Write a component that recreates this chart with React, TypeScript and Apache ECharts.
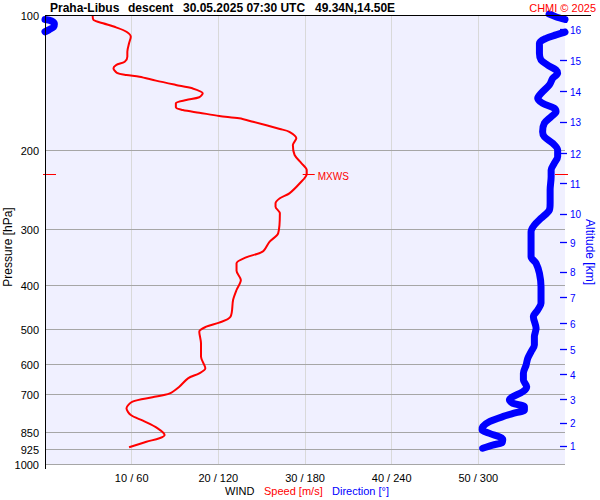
import React, { useEffect, useRef } from "react";
import * as echarts from "echarts";

const FONT = '"Liberation Sans", Arial, sans-serif';

// Pressure levels with grid lines / labels (hPa)
const pressureLevels = [100, 200, 300, 400, 500, 600, 700, 850, 925, 1000];

// Altitude ticks (km) and their pressure (hPa)
const altitudeKm = [1, 2, 3, 4, 5, 6, 7, 8, 9, 10, 11, 12, 13, 14, 15, 16];
const altitudeP = [907, 805, 713, 628, 552, 484, 423, 371, 319, 276, 236, 202, 172, 147, 125.5, 107];

// Wind speed profile
const speedP = [100, 102.1, 103.8, 106.0, 108.4, 111.2, 115.0, 120.1, 123.2, 126.4, 128.6, 130.7, 133.8, 135.3, 136.5, 139.3, 142.4, 144.9, 148.7, 151.7, 153.9, 156.5, 159.7, 162.0, 164.2, 167.0, 169.0, 172.0, 178.5, 181.1, 187.3, 193.8, 204.0, 212.8, 220.3, 224.9, 235.8, 248.3, 254.7, 261.3, 265.9, 275.0, 304.8, 318.3, 334.9, 344.7, 355.5, 369.3, 387.3, 407.6, 429.1, 467.5, 482.0, 492.0, 504.8, 535.8, 573.9, 609.0, 624.9, 641.1, 669.3, 692.4, 706.7, 722.8, 747.7, 773.8, 796.8, 828.6, 857.5, 872.0, 887.4, 913.1];
const speedMs = [5.5, 5.6, 6.7, 8.2, 9.4, 9.9, 9.7, 9.5, 9.5, 9.2, 8.2, 7.9, 8.3, 9.4, 10.9, 12.8, 15.1, 17.0, 18.2, 17.8, 16.3, 15.1, 15.1, 15.9, 17.8, 20.1, 22.4, 24.0, 27.1, 28.2, 29.0, 28.6, 28.8, 29.6, 30.2, 30.2, 29.4, 28.2, 27.1, 26.6, 26.6, 27.1, 26.9, 25.9, 25.1, 23.2, 22.1, 22.1, 22.6, 22.1, 21.7, 21.4, 20.1, 18.6, 17.8, 18.0, 18.0, 18.5, 17.8, 16.5, 15.5, 14.4, 12.4, 10.1, 9.4, 9.9, 11.3, 13.0, 13.8, 13.2, 11.7, 9.7];

// Wind direction profile, split where it wraps around 0/360
const dirTopP = [99, 100.5, 101.8];
const dirTopDeg = [349, 354, 360];
const dirWrapP = [101.8, 102.6, 104.2, 105.8, 107.2, 108.4];
const dirWrapDeg = [0, 4.5, 6.5, 6, 3, 0];
const dirMainP = [108.6, 110.2, 112.1, 115.0, 121.1, 125.3, 128.6, 131.9, 134.2, 137.6, 142.4, 148.7, 152.5, 156.5, 160.5, 163.4, 167.6, 173.4, 181.1, 185.8, 192.1, 198.8, 205.8, 212.8, 220.3, 228.0, 244.1, 261.3, 270.4, 282.2, 292.1, 302.3, 315.5, 343.6, 355.5, 374.2, 400.8, 436.4, 451.7, 467.5, 496.2, 518.0, 540.5, 559.4, 578.7, 598.8, 624.9, 646.8, 669.3, 686.8, 704.6, 716.5, 728.8, 741.6, 754.2, 764.7, 780.5, 801.0, 821.8, 835.7, 850.2, 876.6, 891.9, 902.8, 917.8];
const dirMainDeg = [360, 353.8, 346.9, 342.3, 342.3, 343.4, 348.0, 353.8, 354.9, 351.5, 349.2, 343.4, 341.1, 344.5, 352.6, 353.8, 350.4, 345.7, 344.5, 345.7, 351.5, 354.9, 354.9, 352.6, 350.4, 350.4, 349.7, 349.7, 349.2, 343.4, 338.8, 336.5, 336.5, 336.5, 340.0, 342.3, 343.4, 343.4, 341.1, 338.1, 340.0, 338.8, 338.8, 336.5, 334.2, 333.1, 331.2, 331.2, 333.5, 330.7, 323.8, 321.5, 323.8, 331.9, 331.9, 326.1, 316.9, 307.7, 303.0, 302.6, 307.7, 316.9, 316.4, 309.9, 303.0];

// Maximum wind
const mxwsSpeed = 30.2;
const mxwsP = 225;

const speedTicks = [10, 20, 30, 40, 50];

export default function App() {
  const ref = useRef<HTMLDivElement>(null);

  useEffect(() => {
    if (!ref.current) return;
    const chart = echarts.init(ref.current, undefined, { renderer: "svg" });

    const zip = (a: number[], b: number[]) => a.map((v, i) => [v, b[i]]);
    const blueStyle = { color: "#0000ff", width: 7, cap: "round", join: "round" };

    const option: any = {
      animation: false,
      backgroundColor: "#ffffff",
      textStyle: { fontFamily: FONT },
      grid: {
        left: 45, top: 16, right: 35, bottom: 35,
        show: true, backgroundColor: "#f0f0ff", borderWidth: 0,
      },
      xAxis: [
        {
          type: "value", min: 0, max: 60, interval: 10,
          axisLine: { show: false }, axisTick: { show: false },
          splitLine: { show: true, showMinLine: false, showMaxLine: false, lineStyle: { color: "#d9d9d9", width: 1 } },
          axisLabel: {
            margin: 7, fontSize: 11, color: "#000", fontFamily: FONT,
            formatter: (v: number) => (speedTicks.indexOf(v) >= 0 ? `${v} / ${v * 6}` : ""),
          },
        },
        { type: "value", min: 0, max: 360, show: false },
      ],
      yAxis: {
        type: "log", logBase: 10, min: 100, max: 1000, inverse: true,
        axisLine: { show: false }, axisTick: { show: false },
        axisLabel: { show: false }, splitLine: { show: false },
      },
      series: [
        {
          type: "custom", z: 1, clip: false, silent: true,
          xAxisIndex: 0, yAxisIndex: 0,
          data: pressureLevels.map((p) => [0, p]),
          encode: { x: 0, y: 1 },
          renderItem: (params: any, api: any) => {
            const p = api.value(1);
            const a = api.coord([0, p]);
            const b = api.coord([60, p]);
            const y = Math.round(a[1]) - 0.5;
            return {
              type: "group",
              children: [
                { type: "line", shape: { x1: a[0], y1: y, x2: b[0], y2: y }, style: { stroke: "#a6a6a6", lineWidth: 1 } },
                {
                  type: "text", x: a[0] - 6, y: a[1],
                  style: { text: String(p), align: "right", verticalAlign: "middle", fill: "#000", fontSize: 11, fontFamily: FONT },
                },
              ],
            };
          },
        },
        {
          type: "custom", z: 5, clip: false, silent: true,
          xAxisIndex: 0, yAxisIndex: 0,
          data: altitudeKm.map((k, i) => [60, altitudeP[i], k]),
          encode: { x: 0, y: 1 },
          renderItem: (params: any, api: any) => {
            const c = api.coord([api.value(0), api.value(1)]);
            const y = Math.round(c[1]) + 0.5;
            return {
              type: "group",
              children: [
                { type: "line", shape: { x1: c[0] - 5, y1: y, x2: c[0] + 2, y2: y }, style: { stroke: "#0000ff", lineWidth: 1.3 } },
                {
                  type: "text", x: c[0] + 5, y: c[1] + 1,
                  style: { text: String(api.value(2)), align: "left", verticalAlign: "middle", fill: "#0000ff", fontSize: 10, fontFamily: FONT },
                },
              ],
            };
          },
        },
        {
          type: "custom", z: 6, clip: false, silent: true,
          xAxisIndex: 0, yAxisIndex: 0,
          data: [[mxwsSpeed, mxwsP]],
          encode: { x: 0, y: 1 },
          renderItem: (params: any, api: any) => {
            const c = api.coord([api.value(0), api.value(1)]);
            const l = api.coord([0, api.value(1)]);
            const r = api.coord([60, api.value(1)]);
            const y = Math.round(c[1]) + 0.5;
            return {
              type: "group",
              children: [
                { type: "line", shape: { x1: l[0] - 2, y1: y, x2: l[0] + 11, y2: y }, style: { stroke: "#ff0000", lineWidth: 1 } },
                { type: "line", shape: { x1: r[0] - 10, y1: y, x2: r[0] + 3, y2: y }, style: { stroke: "#ff0000", lineWidth: 1 } },
                { type: "line", shape: { x1: c[0] - 4, y1: y, x2: c[0] + 8, y2: y }, style: { stroke: "#ff0000", lineWidth: 1 } },
                {
                  type: "text", x: c[0] + 11, y: c[1] + 2,
                  style: { text: "MXWS", align: "left", verticalAlign: "middle", fill: "#ff0000", fontSize: 10, fontFamily: FONT },
                },
              ],
            };
          },
        },
        {
          type: "line", name: "Speed", xAxisIndex: 0, yAxisIndex: 0, z: 4,
          data: zip(speedMs, speedP), showSymbol: false, symbol: "none", smooth: 0.3,
          lineStyle: { color: "#ff0000", width: 2 },
        },
        {
          type: "line", name: "DirTop", xAxisIndex: 1, yAxisIndex: 0, z: 3, clip: false,
          data: zip(dirTopDeg, dirTopP), showSymbol: false, symbol: "none", smooth: 0.3, lineStyle: blueStyle,
        },
        {
          type: "line", name: "DirWrap", xAxisIndex: 1, yAxisIndex: 0, z: 3, clip: false,
          data: zip(dirWrapDeg, dirWrapP), showSymbol: false, symbol: "none", smooth: 0.3, lineStyle: blueStyle,
        },
        {
          type: "line", name: "DirMain", xAxisIndex: 1, yAxisIndex: 0, z: 3, clip: false,
          data: zip(dirMainDeg, dirMainP), showSymbol: false, symbol: "none", smooth: 0.3, lineStyle: blueStyle,
        },
      ],
      graphic: [
        { type: "line", z: 100, shape: { x1: 45, y1: 15.5, x2: 591, y2: 15.5 }, style: { stroke: "#000", lineWidth: 1 } },
        { type: "line", z: 100, shape: { x1: 45.5, y1: 15.5, x2: 45.5, y2: 469 }, style: { stroke: "#000", lineWidth: 1 } },
        { type: "text", z: 100, x: 50, y: 8, style: { text: "Praha-Libus", fill: "#000", font: `bold 12px ${FONT}`, verticalAlign: "middle" } },
        { type: "text", z: 100, x: 128, y: 8, style: { text: "descent", fill: "#000", font: `bold 12px ${FONT}`, verticalAlign: "middle" } },
        { type: "text", z: 100, x: 183, y: 8, style: { text: "30.05.2025 07:30 UTC", fill: "#000", font: `bold 12px ${FONT}`, verticalAlign: "middle" } },
        { type: "text", z: 100, x: 315, y: 8, style: { text: "49.34N,14.50E", fill: "#000", font: `bold 12px ${FONT}`, verticalAlign: "middle" } },
        { type: "text", z: 100, x: 596, y: 8, style: { text: "CHMI © 2025", fill: "#ff0000", font: `11px ${FONT}`, align: "right", verticalAlign: "middle" } },
        { type: "text", z: 100, x: 8, y: 247, rotation: Math.PI / 2, style: { text: "Pressure [hPa]", fill: "#000", font: `12px ${FONT}`, align: "center", verticalAlign: "middle" } },
        { type: "text", z: 100, x: 590, y: 252, rotation: -Math.PI / 2, style: { text: "Altitude [km]", fill: "#0000ff", font: `12px ${FONT}`, align: "center", verticalAlign: "middle" } },
        { type: "text", z: 100, x: 225, y: 491, style: { text: "WIND", fill: "#000", font: `11px ${FONT}`, verticalAlign: "middle" } },
        { type: "text", z: 100, x: 264, y: 491, style: { text: "Speed [m/s]", fill: "#ff0000", font: `11px ${FONT}`, verticalAlign: "middle" } },
        { type: "text", z: 100, x: 332, y: 491, style: { text: "Direction [°]", fill: "#0000ff", font: `11px ${FONT}`, verticalAlign: "middle" } },
      ],
    };

    chart.setOption(option);
    return () => chart.dispose();
  }, []);

  return <div ref={ref} style={{ position: "fixed", left: 0, top: 0, width: 600, height: 500 }} />;
}
